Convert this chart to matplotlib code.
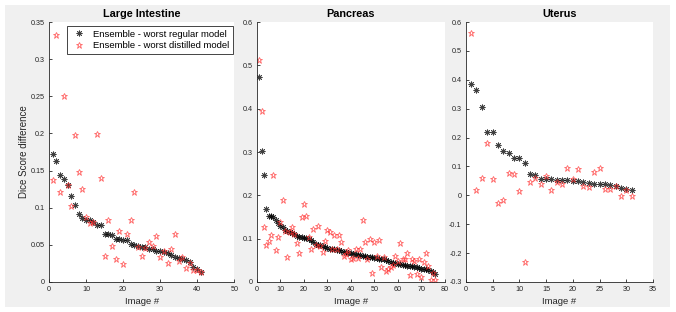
import numpy as np
import matplotlib
matplotlib.use('Agg')
import matplotlib.pyplot as plt
from matplotlib.patches import Rectangle

plt.rcParams['font.family'] = ['Liberation Sans', 'DejaVu Sans']

# Large Intestine
li_reg = [0.172, 0.163, 0.144, 0.139, 0.130, 0.116, 0.104, 0.091, 0.086, 0.084,
          0.084, 0.081, 0.077, 0.077, 0.065, 0.064, 0.063, 0.058, 0.058, 0.057,
          0.056, 0.051, 0.050, 0.048, 0.047, 0.047, 0.045, 0.044, 0.042, 0.042,
          0.041, 0.039, 0.036, 0.033, 0.032, 0.031, 0.030, 0.027, 0.020, 0.018,
          0.013]
li_dist = [0.137, 0.332, 0.121, 0.250, 0.130, 0.102, 0.198, 0.148, 0.125, 0.088,
           0.079, 0.081, 0.199, 0.140, 0.035, 0.084, 0.048, 0.031, 0.068, 0.024,
           0.064, 0.084, 0.121, 0.047, 0.035, 0.046, 0.054, 0.048, 0.062, 0.034,
           0.042, 0.025, 0.044, 0.065, 0.028, 0.034, 0.019, 0.026, 0.016, 0.016,
           0.013]

# Pancreas
pa_reg = [0.474, 0.302, 0.246, 0.168, 0.153, 0.153, 0.150, 0.144, 0.137, 0.130,
          0.126, 0.120, 0.117, 0.115, 0.113, 0.110, 0.107, 0.104, 0.103, 0.102,
          0.101, 0.099, 0.096, 0.092, 0.088, 0.086, 0.085, 0.083, 0.081, 0.079,
          0.077, 0.076, 0.075, 0.074, 0.073, 0.072, 0.070, 0.069, 0.068, 0.066,
          0.065, 0.064, 0.063, 0.062, 0.060, 0.059, 0.058, 0.057, 0.057, 0.056,
          0.055, 0.054, 0.053, 0.052, 0.050, 0.048, 0.046, 0.044, 0.043, 0.042,
          0.041, 0.040, 0.039, 0.038, 0.037, 0.036, 0.035, 0.034, 0.032, 0.031,
          0.030, 0.029, 0.027, 0.025, 0.022, 0.019]
pa_dist = [0.513, 0.394, 0.126, 0.086, 0.095, 0.108, 0.248, 0.073, 0.105, 0.139,
           0.189, 0.117, 0.058, 0.115, 0.127, 0.111, 0.089, 0.067, 0.150, 0.180,
           0.153, 0.105, 0.076, 0.123, 0.085, 0.130, 0.083, 0.069, 0.094, 0.120,
           0.115, 0.075, 0.108, 0.075, 0.108, 0.093, 0.060, 0.064, 0.073, 0.054,
           0.055, 0.075, 0.055, 0.077, 0.143, 0.092, 0.052, 0.099, 0.020, 0.092,
           0.060, 0.098, 0.035, 0.058, 0.025, 0.030, 0.035, 0.039, 0.061, 0.049,
           0.089, 0.054, 0.052, 0.067, 0.017, 0.054, 0.048, 0.019, 0.054, 0.012,
           0.047, 0.067, 0.036, 0.005, 0.021, 0.005]

# Uterus
ut_reg = [0.386, 0.366, 0.305, 0.221, 0.218, 0.173, 0.152, 0.145, 0.131, 0.129,
          0.111, 0.074, 0.071, 0.055, 0.055, 0.055, 0.053, 0.053, 0.052, 0.051,
          0.049, 0.047, 0.044, 0.040, 0.040, 0.040, 0.037, 0.031, 0.025, 0.023,
          0.017]
ut_dist = [0.562, 0.017, 0.061, 0.183, 0.056, -0.028, -0.015, 0.077, 0.074, 0.014,
           -0.231, 0.046, 0.060, 0.039, 0.068, 0.020, 0.045, 0.041, 0.095, 0.055,
           0.090, 0.033, 0.029, 0.080, 0.095, 0.023, 0.022, 0.032, -0.003, 0.020,
           -0.003]

titles = ['Large Intestine', 'Pancreas', 'Uterus']
xlims = [(0, 50), (0, 80), (0, 35)]
ylims = [(0, 0.35), (0, 0.6), (-0.3, 0.6)]
yticks = [np.arange(0, 0.351, 0.05), np.arange(0, 0.61, 0.1), np.arange(-0.3, 0.61, 0.1)]
ytlabels = [['0', '0.05', '0.1', '0.15', '0.2', '0.25', '0.3', '0.35'],
            ['0', '0.1', '0.2', '0.3', '0.4', '0.5', '0.6'],
            ['-0.3', '-0.2', '-0.1', '0', '0.1', '0.2', '0.3', '0.4', '0.5', '0.6']]
xticks = [np.arange(0, 51, 10), np.arange(0, 81, 10), np.arange(0, 36, 5)]
data = [(li_reg, li_dist), (pa_reg, pa_dist), (ut_reg, ut_dist)]
lefts = [0.0725, 0.380, 0.689]
widths = [0.274, 0.278, 0.277]

fig = plt.figure(figsize=(6.76, 3.12), dpi=100, facecolor='white')
# grey figure area with thin white margin
bg = fig.add_axes([0, 0, 1, 1], zorder=-10)
bg.add_patch(Rectangle((5 / 676, 5 / 312), 665 / 676, 302 / 312,
                       facecolor='#f0f0f0', edgecolor='none'))
bg.set_xlim(0, 1)
bg.set_ylim(0, 1)
bg.axis('off')

axc = '#262626'
for k in range(3):
    ax = fig.add_axes([lefts[k], 0.0962, widths[k], 0.833])
    reg, dist = data[k]
    x = np.arange(1, len(reg) + 1)
    ax.plot(x, reg, linestyle='none', marker=(8, 2, 0), markersize=4.2,
            markeredgewidth=0.6, color='black', alpha=0.75,
            label='Ensemble - worst regular model')
    ax.plot(x, dist, linestyle='none', marker='*', markersize=5,
            markeredgewidth=0.6, markerfacecolor='none', markeredgecolor='#ff3030',
            alpha=0.75, label='Ensemble - worst distilled model')
    ax.set_xlim(xlims[k])
    ax.set_ylim(ylims[k])
    ax.set_xticks(xticks[k])
    ax.set_yticks(yticks[k])
    ax.set_yticklabels(ytlabels[k])
    ax.spines['top'].set_visible(False)
    ax.spines['right'].set_visible(False)
    for s in ['left', 'bottom']:
        ax.spines[s].set_color(axc)
        ax.spines[s].set_linewidth(0.6)
    ax.tick_params(direction='in', length=2.5, width=0.6, labelsize=5.2,
                   colors=axc, pad=3)
    ax.set_title(titles[k], fontsize=7.8, fontweight='bold', pad=3.5)
    ax.set_xlabel('Image #', fontsize=6.8, labelpad=3, color=axc)
    if k == 0:
        ax.set_ylabel('Dice Score difference', fontsize=7, labelpad=1.5, color=axc)
        leg = ax.legend(loc='upper right', bbox_to_anchor=(0.995, 0.985),
                        fontsize=6.8, fancybox=False,
                        edgecolor='#262626', framealpha=1, borderaxespad=0.0,
                        handletextpad=0.6, borderpad=0.4, labelspacing=0.25,
                        handlelength=1.8)
        leg.get_frame().set_linewidth(0.6)

fig.savefig('out.png', dpi=100, facecolor='white')
